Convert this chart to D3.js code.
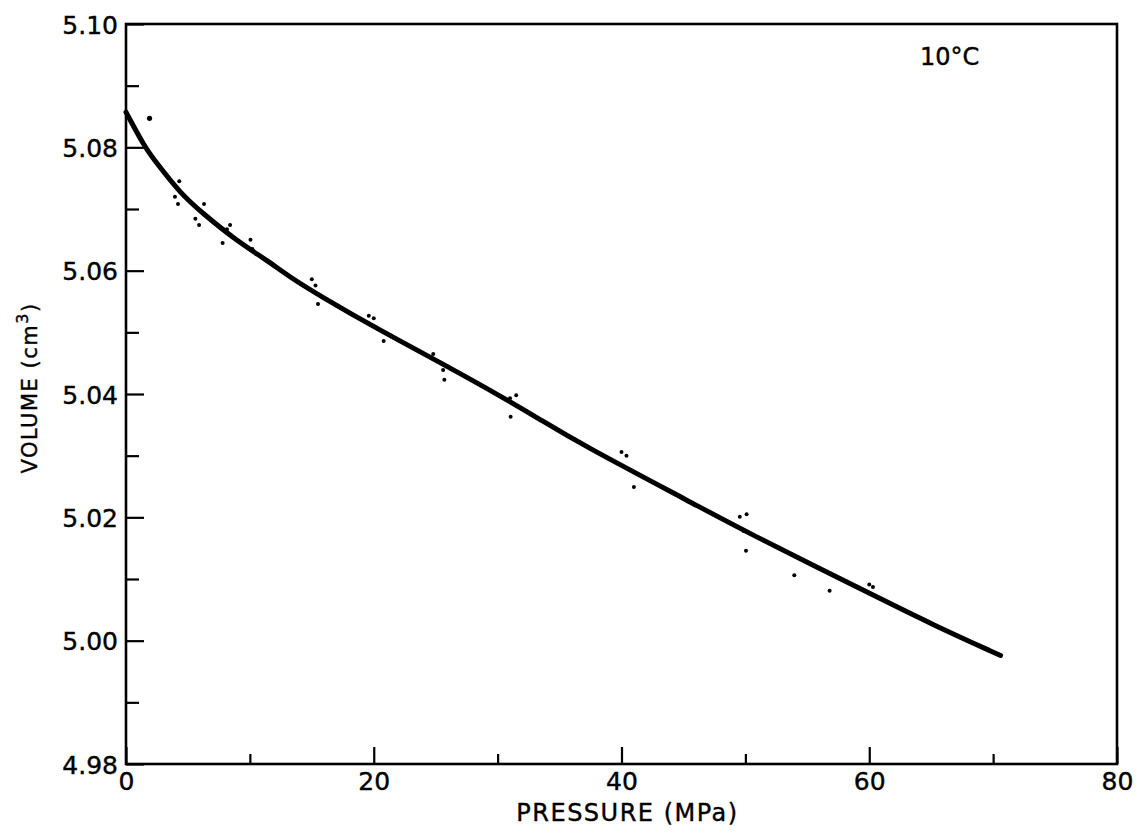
<!DOCTYPE html>
<html>
<head>
<meta charset="utf-8">
<script src="https://cdn.jsdelivr.net/npm/d3@7"></script>
<style>
  html, body { margin: 0; padding: 0; background: #fff; }
  svg { display: block; }
  text { font-family: "DejaVu Sans", sans-serif; fill: #000; }
</style>
</head>
<body>
<svg id="chart" width="1137" height="832"></svg>
<script>
// Fitted curve (pressure MPa, volume cm^3)
const curveP = [0, 1.5, 2.3, 4.4, 6.2, 8.7, 11.5, 13.2, 15.5, 20.6, 25.3, 31.0, 33.4, 36.6, 46.3, 49.8, 60.0, 65.2, 70.6];
const curveV = [5.0857, 5.0801, 5.0779, 5.0725, 5.0693, 5.0652, 5.0615, 5.0590, 5.0561, 5.0502, 5.0452, 5.0388, 5.0359, 5.0320, 5.0217, 5.0179, 5.0077, 5.0025, 4.9976];

// Measured points
const ptsP = [1.9, 2.3, 4.3, 3.95, 4.2, 6.3, 5.6, 5.9, 8.4, 8.15, 7.8, 10.05, 10.2, 15.0, 15.3, 15.5, 19.6, 20.0, 20.8, 24.8, 25.6, 25.7, 31.5, 31.0, 31.05, 40.0, 40.4, 41.0, 49.55, 50.1, 49.85, 50.05, 53.95, 56.8, 60.0, 60.3];
const ptsV = [5.0847, 5.0779, 5.0745, 5.0720, 5.0708, 5.0708, 5.0684, 5.0674, 5.0674, 5.0667, 5.0645, 5.0650, 5.0635, 5.0586, 5.0576, 5.0546, 5.0527, 5.0523, 5.0486, 5.0465, 5.0439, 5.0423, 5.0398, 5.0393, 5.0363, 5.0306, 5.0300, 5.0249, 5.0201, 5.0205, 5.0178, 5.0146, 5.0106, 5.0081, 5.0091, 5.0087];

const xMajor = [0, 20, 40, 60, 80];
const xMinor = [10, 30, 50, 70];
const yMajor = [4.98, 5.00, 5.02, 5.04, 5.06, 5.08, 5.10];
const yMinor = [4.99, 5.01, 5.03, 5.05, 5.07, 5.09];
const xTitle = "PRESSURE (MPa)";
const yTitleMain = "VOLUME (cm";
const yTitleSup = "3";
const yTitleEnd = ")";
const annotation = "10°C";

const svg = d3.select("#chart");
const L = 126, R = 1117, T = 24, B = 764;

const x = d3.scaleLinear().domain([0, 80]).range([L, R]);
const y = d3.scaleLinear().domain([4.98, 5.10]).range([B, T]);

// Axes (ticks inward)
const gx = svg.append("g").attr("transform", `translate(0,${B})`)
  .call(d3.axisBottom(x).tickValues(xMajor).tickFormat(d3.format("d"))
    .tickSizeInner(-17).tickSizeOuter(0).tickPadding(8));
const gxm = svg.append("g").attr("transform", `translate(0,${B})`)
  .call(d3.axisBottom(x).tickValues(xMinor).tickFormat("")
    .tickSizeInner(-10).tickSizeOuter(0));
const gy = svg.append("g").attr("transform", `translate(${L},0)`)
  .call(d3.axisLeft(y).tickValues(yMajor).tickFormat(d3.format(".2f"))
    .tickSizeInner(-18).tickSizeOuter(0).tickPadding(8));
const gym = svg.append("g").attr("transform", `translate(${L},0)`)
  .call(d3.axisLeft(y).tickValues(yMinor).tickFormat("")
    .tickSizeInner(-13).tickSizeOuter(0));

[gx, gxm, gy, gym].forEach(g => {
  g.select(".domain").remove();
  g.selectAll(".tick line").attr("stroke", "#000").attr("stroke-width", 2.2);
  g.selectAll(".tick text").attr("font-size", 25).attr("font-family", "DejaVu Sans, sans-serif").attr("fill", "#000")
    .attr("stroke", "#000").attr("stroke-width", 0.4);
});
gy.selectAll(".tick text").attr("dy", "0.36em");

// Frame
svg.append("rect")
  .attr("x", x(0)).attr("y", y(5.10))
  .attr("width", x(80) - x(0)).attr("height", y(4.98) - y(5.10))
  .attr("fill", "none").attr("stroke", "#000").attr("stroke-width", 2.6);

// Curve
const curveData = curveP.map((p, i) => [p, curveV[i]]);
svg.append("path")
  .datum(curveData)
  .attr("fill", "none")
  .attr("stroke", "#000")
  .attr("stroke-width", 5)
  .attr("stroke-linecap", "round")
  .attr("d", d3.line().x(d => x(d[0])).y(d => y(d[1])).curve(d3.curveBasis));

// Points
const ptsData = ptsP.map((p, i) => [p, ptsV[i]]);
svg.append("g").selectAll("circle")
  .data(ptsData)
  .join("circle")
  .attr("cx", d => x(d[0]))
  .attr("cy", d => y(d[1]))
  .attr("r", (d, i) => i === 0 ? 2.6 : 2)
  .attr("fill", "#000");

// Annotation
svg.append("text")
  .attr("x", 920).attr("y", 65)
  .attr("font-size", 24)
  .attr("stroke", "#000").attr("stroke-width", 0.4)
  .text(annotation);

// X title
svg.append("text")
  .attr("x", (L + R) / 2 + 6).attr("y", 821)
  .attr("text-anchor", "middle")
  .attr("font-size", 24)
  .attr("letter-spacing", 1.5)
  .attr("stroke", "#000").attr("stroke-width", 0.4)
  .text(xTitle);

// Y title
const yt = svg.append("text")
  .attr("transform", `translate(37,${(T + B) / 2 - 6}) rotate(-90)`)
  .attr("text-anchor", "middle")
  .attr("font-size", 21)
  .attr("letter-spacing", 1.5)
  .attr("stroke", "#000").attr("stroke-width", 0.4);
yt.append("tspan").text(yTitleMain);
yt.append("tspan").attr("font-size", 16).attr("dy", -9).text(yTitleSup);
yt.append("tspan").attr("dy", 9).text(yTitleEnd);
</script>
</body>
</html>
